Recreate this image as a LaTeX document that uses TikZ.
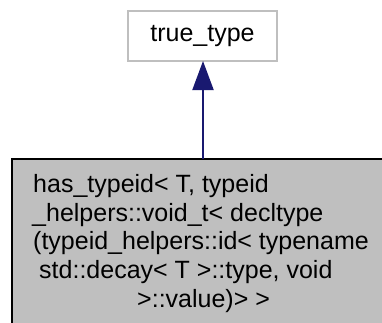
\documentclass[tikz,border=0pt]{standalone}
\usepackage{fontspec}
\setmainfont{Liberation Sans}
\usetikzlibrary{arrows.meta}
\definecolor{edgeblue}{HTML}{191970}
\definecolor{boxgray}{HTML}{BFBFBF}
\definecolor{linegray}{HTML}{BFBFBF}
\tikzset{
  lbl/.style={anchor=base west, inner sep=0pt, font=\fontsize{25}{29}\selectfont},
  basebox/.style={draw=linegray, line width=2pt, fill=white},
  derivedbox/.style={draw=black, line width=2pt, fill=boxgray},
  inherit/.style={draw=edgeblue, line width=2pt, -{Triangle[width=21pt,length=29pt]}, shorten >=0pt}
}
\begin{document}
\begin{tikzpicture}[x=1pt,y=-1pt]
\useasboundingbox (0,0) rectangle (382,322);
\clip (0,0) rectangle (382,322);
% base class node
\draw[basebox] (128,11) rectangle (277,61);
\node[inner sep=0pt, font=\fontsize{25}{29}\selectfont] (base) at (202.5,36) {true\_type};
\coordinate (baseb) at (203,61);
% derived class node
\draw[derivedbox] (12,159) rectangle (400,340);
\coordinate (dert) at (203,159);
\node[lbl] (l1) at (33,192) {has\_typeid< T, typeid};
\node[lbl] (l2) at (32,221) {\_helpers::void\_t< decltype};
\node[lbl] (l3) at (33,249) {(typeid\_helpers::id< typename};
\node[lbl] (l4) at (39,278) {std::decay< T >::type, void};
\node[lbl] (l5) at (137,307) {>::value)> >};
\draw[inherit] (dert) -- (baseb);
\end{tikzpicture}
\end{document}
